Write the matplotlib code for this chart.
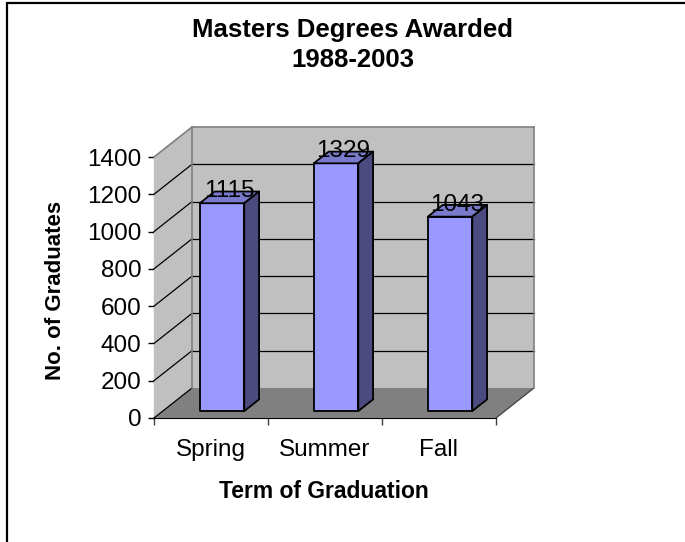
import numpy as np
import matplotlib; matplotlib.use("Agg")
import matplotlib.pyplot as plt
from matplotlib.patches import Polygon, Rectangle
from matplotlib.transforms import IdentityTransform

plt.rcParams["font.family"] = ["Liberation Sans", "DejaVu Sans"]

# data
terms = ["Spring", "Summer", "Fall"]
graduates = [1115, 1329, 1043]
yticks = [0, 200, 400, 600, 800, 1000, 1200, 1400]

W, H = 685, 542
fig = plt.figure(figsize=(W / 100, H / 100), dpi=100)
# front plane of the 3-D box, in figure pixels
ax = fig.add_axes([154 / W, (H - 418) / H, 342 / W, 261 / H])
ax.set_xlim(0, len(terms)); ax.set_ylim(0, yticks[-1])
ax.patch.set_visible(False)

DX, DY = 38, 30          # full depth of the box, pixels
fig.canvas.draw()

def P(x, v, d):
    px, py = ax.transData.transform((x, v))
    return (px + d * DX, py + d * DY)

def poly(pts, **kw):
    fig.add_artist(Polygon(pts, closed=True, transform=IdentityTransform(), **kw))

def seg(a, b, **kw):
    fig.add_artist(plt.Line2D([a[0], b[0]], [a[1], b[1]], transform=IdentityTransform(), **kw))

n, top = len(terms), yticks[-1]
wall, edge = "#c0c0c0", "#808080"
# back wall, left wall, floor
poly([P(0, 0, 1), P(n, 0, 1), P(n, top, 1), P(0, top, 1)], fc=wall, ec="none", zorder=1)
poly([P(0, 0, 0), P(0, 0, 1), P(0, top, 1), P(0, top, 0)], fc=wall, ec="none", zorder=1)
poly([P(0, 0, 0), P(n, 0, 0), P(n, 0, 1), P(0, 0, 1)], fc="#808080", ec="none", zorder=1)
# gridlines
for v in yticks[1:-1]:
    seg(P(0, v, 0), P(0, v, 1), color="black", lw=0.9, zorder=2)
    seg(P(0, v, 1), P(n, v, 1), color="black", lw=0.9, zorder=2)
seg(P(0, 0, 0), P(0, 0, 1), color="black", lw=0.9, zorder=2)
seg(P(n, 0, 0), P(n, 0, 1), color="#404040", lw=0.9, zorder=2)
# wall outlines
seg(P(0, top, 0), P(0, top, 1), color=edge, lw=1.2, zorder=2)
seg(P(0, top, 1), P(n, top, 1), color=edge, lw=1.2, zorder=2)
seg(P(n, top, 1), P(n, 0, 1), color=edge, lw=1.2, zorder=2)
seg(P(0, top, 1), P(0, 0, 1), color=edge, lw=1.2, zorder=2)

# bars
bw, d0, d1 = 0.39, 0.23, 0.62
for i, v in enumerate(graduates):
    x0, x1 = i + 0.52 - bw / 2, i + 0.52 + bw / 2
    kw = dict(ec="black", lw=1.3, joinstyle="round", zorder=3)
    poly([P(x0, 0, d0), P(x1, 0, d0), P(x1, v, d0), P(x0, v, d0)], fc="#9999ff", **kw)
    poly([P(x0, v, d0), P(x1, v, d0), P(x1, v, d1), P(x0, v, d1)], fc="#7a7acc", **kw)
    poly([P(x1, 0, d0), P(x1, 0, d1), P(x1, v, d1), P(x1, v, d0)], fc="#4b4b80", **kw)
    tx, ty = P(i + 0.52, v, (d0 + d1) / 2)
    fig.text(tx / W, ty / H, str(v), ha="center", va="baseline", fontsize=17.5, zorder=4)

# axes
for s in ("top", "right"):
    ax.spines[s].set_visible(False)
ax.spines["left"].set_color("black"); ax.spines["bottom"].set_color("black")
ax.spines["left"].set_zorder(5); ax.spines["bottom"].set_zorder(5)
ax.set_yticks(yticks)
ax.tick_params(axis="y", length=4, width=1, pad=5, labelsize=17.5, direction="out")
ax.set_xticks(np.arange(n + 1), minor=True)
ax.set_xticks(np.arange(n) + 0.5, terms)
ax.tick_params(axis="x", which="major", length=0, pad=15, labelsize=17.5)
ax.tick_params(axis="x", which="minor", length=5, width=1, color="#404040", direction="out")

fig.text(56 / W, 1 - 290 / H, "No. of Graduates", rotation=90, ha="center", va="center",
         fontsize=16, fontweight="bold")
fig.text(324 / W, 1 - 498 / H, "Term of Graduation", ha="center", va="baseline",
         fontsize=16.5, fontweight="bold")
fig.text(353 / W, 1 - 37 / H, "Masters Degrees Awarded", ha="center", va="baseline",
         fontsize=18.5, fontweight="bold")
fig.text(353 / W, 1 - 67 / H, "1988-2003", ha="center", va="baseline",
         fontsize=18.5, fontweight="bold")

# chart border (runs off the right and bottom of the picture)
fig.add_artist(Rectangle((7 / W, -0.05), 1.1, 1 - 3 / H + 0.05, transform=fig.transFigure,
                         fill=False, ec="black", lw=1.6, zorder=6))

fig.savefig("out.png", dpi=100)
